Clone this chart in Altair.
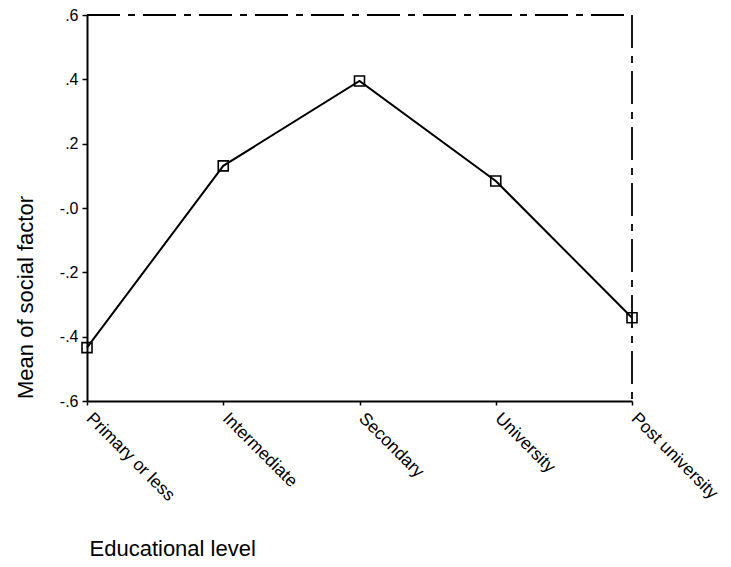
import altair as alt
import pandas as pd

levels = ["Primary or less", "Intermediate", "Secondary", "University", "Post university"]
means = [-0.434, 0.131, 0.395, 0.084, -0.341]
y_ticks = [-0.6, -0.4, -0.2, 0.0, 0.2, 0.4, 0.6]

df = pd.DataFrame({"level": levels, "mean": means})
frame = pd.DataFrame({"k": [0]})

FONT = "Liberation Sans"

x_enc = alt.X(
    "level:N",
    sort=levels,
    scale=alt.Scale(type="point", padding=0),
    axis=alt.Axis(
        title="Educational level",
        labelAngle=45,
        labelAlign="left",
        labelBaseline="top",
        labelFontSize=17.5,
        labelPadding=4,
        labelOffset=8,
        labelFont=FONT,
        labelColor="black",
        tickSize=4,
        tickColor="black",
        tickWidth=1.5,
        domainColor="black",
        domainWidth=2,
        titleFont=FONT,
        titleFontSize=22,
        titleFontWeight="normal",
        titleColor="black",
        titleAngle=0,
        titleAlign="left",
        titleBaseline="alphabetic",
        titleX=2,
        titleY=154,
        grid=False,
    ),
)

y_enc = alt.Y(
    "mean:Q",
    scale=alt.Scale(domain=[-0.6, 0.6], nice=False, zero=False),
    axis=alt.Axis(
        title="Mean of social factor",
        values=y_ticks,
        labelExpr="datum.value == 0 ? '-.0' : (datum.value < 0 ? '-' : '') + '.' + round(abs(datum.value) * 10)",
        labelFontSize=16,
        labelFont=FONT,
        labelColor="black",
        labelPadding=4,
        tickSize=5,
        tickColor="black",
        tickWidth=1.5,
        domainColor="black",
        domainWidth=2,
        titleFont=FONT,
        titleFontSize=22,
        titleFontWeight="normal",
        titleColor="black",
        titleAngle=270,
        titleAlign="center",
        titleBaseline="alphabetic",
        titleX=-55,
        titleY=282,
        grid=False,
    ),
)

line = alt.Chart(df).mark_line(color="black", strokeWidth=2).encode(x=x_enc, y=y_enc)
pts = alt.Chart(df).mark_point(
    shape="square", filled=False, size=100, color="black", strokeWidth=1.6, opacity=1
).encode(x=alt.X("level:N", sort=levels), y="mean:Q")

dash = [33, 8, 7, 8]
top = alt.Chart(frame).mark_rule(color="black", strokeWidth=1.8, strokeDash=dash).encode(
    x=alt.datum("Primary or less"), x2=alt.datum("Post university"), y=alt.datum(0.6)
)
right = alt.Chart(frame).mark_rule(color="black", strokeWidth=1.8, strokeDash=dash).encode(
    x=alt.datum("Post university"), y=alt.datum(0.6), y2=alt.datum(-0.6)
)

chart = (
    alt.layer(line, top, right, pts)
    .properties(
        width=545,
        height=386,
        autosize=alt.AutoSizeParams(type="none"),
        padding={"left": 79, "top": 7, "right": 91, "bottom": 158},
        background="white",
    )
    .configure_view(stroke=None)
)

chart.save("out.html", embed_options={"renderer": "svg", "actions": False})
